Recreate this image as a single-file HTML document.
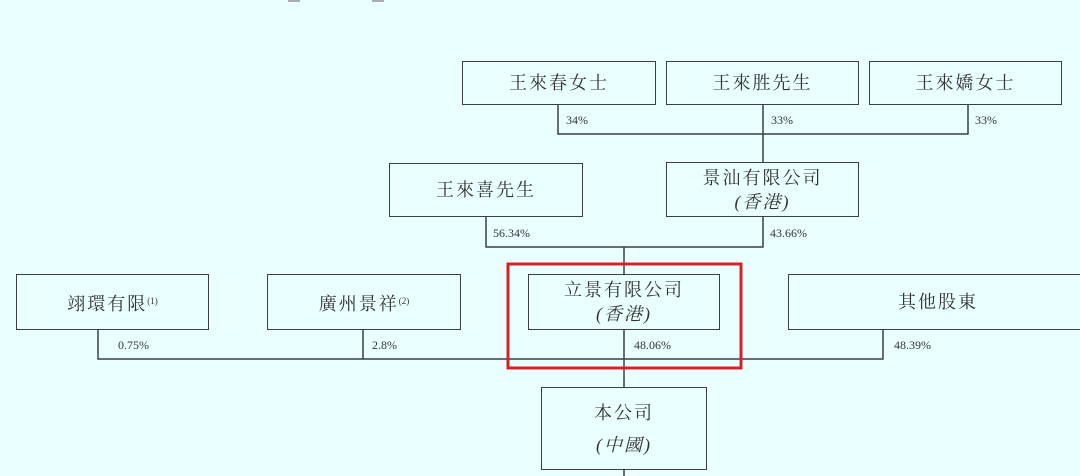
<!DOCTYPE html>
<html><head><meta charset="utf-8"><style>
body{margin:0;width:1080px;height:476px;background:#eaffff;position:relative;overflow:hidden;font-family:"Liberation Serif","Noto Serif CJK SC",serif;}
.b{position:absolute;box-sizing:border-box;border:1.5px solid #3a3f48;display:flex;flex-direction:column;align-items:center;justify-content:center;color:#333;font-size:18px;letter-spacing:2px;line-height:24px;}
.b i{font-style:italic;}
.p{position:absolute;font-size:12px;color:#334;}
sup{font-size:9px;vertical-align:6px;letter-spacing:0}
svg{position:absolute;left:0;top:0}
</style></head><body>
<svg width="1080" height="476"><g stroke="#3a3f48" stroke-width="1.5" fill="none">
<path d="M558 104V134H968V104M763 104V163"/>
<path d="M486 216V247H763V217M624 247V274"/>
<path d="M98 329V359H883V329M363 329V359M624 329V387M624 469V476"/>
</g>
<rect x="508" y="264" width="233" height="104" fill="none" stroke="#d8202a" stroke-width="3"/>
<rect x="288" y="0" width="12" height="2" fill="#aab"/><rect x="372" y="0" width="12" height="2" fill="#aab"/>
</svg>
<div class="b" style="left:462px;top:61px;width:194px;height:44px">王來春女士</div>
<div class="b" style="left:666px;top:61px;width:193px;height:44px">王來胜先生</div>
<div class="b" style="left:869px;top:61px;width:193px;height:44px">王來嬌女士</div>
<div class="p" style="left:566px;top:113px">34%</div>
<div class="p" style="left:771px;top:113px">33%</div>
<div class="p" style="left:975px;top:113px">33%</div>
<div class="b" style="left:389px;top:163px;width:194px;height:54px">王來喜先生</div>
<div class="b" style="left:666px;top:162px;width:193px;height:55px"><span>景汕有限公司</span><i>(香港)</i></div>
<div class="p" style="left:493px;top:226px">56.34%</div>
<div class="p" style="left:770px;top:226px">43.66%</div>
<div class="b" style="left:16px;top:274px;width:193px;height:56px"><span>翊環有限<sup>(1)</sup></span></div>
<div class="b" style="left:267px;top:274px;width:194px;height:56px"><span>廣州景祥<sup>(2)</sup></span></div>
<div class="b" style="left:528px;top:274px;width:192px;height:56px"><span>立景有限公司</span><i>(香港)</i></div>
<div class="b" style="left:788px;top:274px;width:300px;height:56px"><span>其他股東</span></div>
<div class="p" style="left:118px;top:338px">0.75%</div>
<div class="p" style="left:372px;top:338px">2.8%</div>
<div class="p" style="left:634px;top:338px">48.06%</div>
<div class="p" style="left:894px;top:338px">48.39%</div>
<div class="b" style="left:541px;top:387px;width:166px;height:83px;line-height:32px"><span>本公司</span><i>(中國)</i></div>
</body></html>
